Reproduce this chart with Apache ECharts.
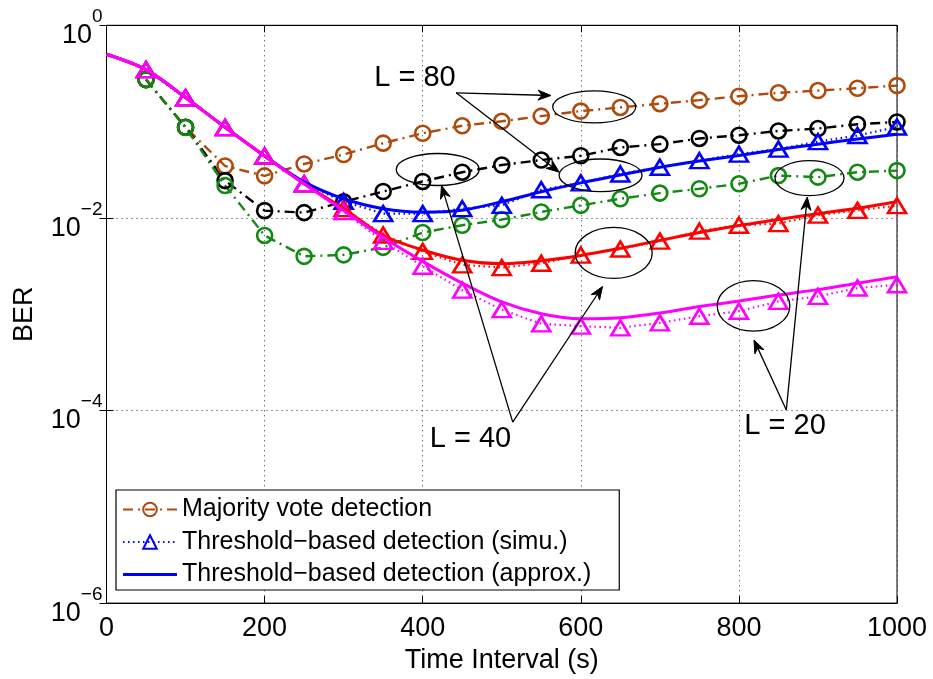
<!DOCTYPE html>
<html>
<head>
<meta charset="utf-8">
<script src="https://cdn.jsdelivr.net/npm/echarts@6/dist/echarts.min.js"></script>
<style>
  html, body { margin: 0; padding: 0; background: #fff; }
  #chart { width: 933px; height: 679px; }
</style>
</head>
<body>
<div id="chart"></div>
<script>
// Time interval (s) at which the simulated BER was measured
const timeSim = [50, 100, 150, 200, 250, 300, 350, 400, 450, 500, 550, 600, 650, 700, 750, 800, 850, 900, 950, 1000];
// Time interval (s) for the analytical approximation curves
const timeApprox = [0, 50, 100, 150, 200, 250, 300, 350, 400, 450, 500, 550, 600, 650, 700, 750, 800, 850, 900, 950, 1000];

// Majority vote detection (simulation)
const mvL80 = [0.273, 0.0873, 0.0346, 0.0273, 0.0363, 0.0455, 0.0597, 0.0757, 0.0905, 0.1007, 0.114, 0.1286, 0.1403, 0.1533, 0.167, 0.1836, 0.199, 0.210, 0.222, 0.2366];
const mvL40 = [0.273, 0.0873, 0.0244, 0.01189, 0.01134, 0.01473, 0.0188, 0.0239, 0.0298, 0.0354, 0.0399, 0.0442, 0.0539, 0.0583, 0.0668, 0.0722, 0.0800, 0.0847, 0.0938, 0.0991];
const mvL20 = [0.273, 0.0867, 0.0217, 0.00657, 0.00399, 0.00413, 0.00494, 0.00705, 0.00839, 0.0096, 0.01153, 0.01349, 0.0158, 0.0181, 0.02005, 0.0226, 0.0275, 0.0265, 0.0298, 0.031];

// Threshold-based detection (simulation)
const thL80 = [0.346, 0.177, 0.0867, 0.0439, 0.0226, 0.01483, 0.01107, 0.01107, 0.01247, 0.01349, 0.0196, 0.0231, 0.0286, 0.0336, 0.0393, 0.046, 0.0518, 0.0619, 0.0717, 0.088];
const thL40 = [0.346, 0.177, 0.0867, 0.0439, 0.0226, 0.0125, 0.00665, 0.00449, 0.00325, 0.00305, 0.00338, 0.00411, 0.00475, 0.00574, 0.00728, 0.00839, 0.00873, 0.01069, 0.01197, 0.0134];
const thL20 = [0.346, 0.177, 0.0867, 0.0439, 0.0226, 0.01161, 0.0057, 0.00315, 0.00178, 0.001114, 0.000794, 0.000752, 0.000722, 0.000813, 0.000953, 0.001074, 0.00136, 0.00153, 0.00187, 0.00202];

// Threshold-based detection (approximation)
const apL80 = [0.50, 0.346, 0.178, 0.0873, 0.044, 0.0237, 0.0158, 0.01247, 0.01148, 0.01203, 0.01473, 0.01868, 0.0231, 0.0279, 0.0336, 0.039, 0.0444, 0.0512, 0.0583, 0.0658, 0.074];
const apL40 = [0.50, 0.346, 0.178, 0.0873, 0.044, 0.0226, 0.0125, 0.00657, 0.00464, 0.00363, 0.00334, 0.00359, 0.00408, 0.00483, 0.00584, 0.00705, 0.00833, 0.0096, 0.01107, 0.01262, 0.01473];
const apL20 = [0.50, 0.346, 0.178, 0.0873, 0.044, 0.0226, 0.0119, 0.00626, 0.00354, 0.0021, 0.00134, 0.00101, 0.000895, 0.000916, 0.00103, 0.0012, 0.00137, 0.00158, 0.0018, 0.0021, 0.00245];

const xTicks = [0, 200, 400, 600, 800, 1000];
const yTickExponents = [0, -2, -4, -6];

const legendNames = ['Majority vote detection', 'Threshold\u2212based detection (simu.)', 'Threshold\u2212based detection (approx.)'];

const FONT = '"Liberation Sans", Arial, Helvetica, sans-serif';
const BROWN = '#B04A0C', GREEN = '#128A12', BLACK = '#000000';
const BLUE = '#0000FF', RED = '#FF0000', MAGENTA = '#FF00FF';

const pairs = (xs, ys) => xs.map((x, i) => [x, ys[i]]);

function majority(name, color, ys) {
  return {
    name, type: 'line', data: pairs(timeSim, ys),
    symbol: 'circle', symbolSize: 15, z: 3,
    itemStyle: { color: 'transparent', borderColor: color, borderWidth: 2.6 },
    lineStyle: { color, width: 2.4, type: [10, 5, 2, 5] },
    color
  };
}
function simu(name, color, ys) {
  return {
    name, type: 'line', data: pairs(timeSim, ys),
    symbol: 'triangle', symbolSize: [18, 15], z: 4,
    itemStyle: { color: 'transparent', borderColor: color, borderWidth: 2.6 },
    lineStyle: { color, width: 2.2, type: [1.5, 3.5] },
    color
  };
}
function approx(name, color, ys) {
  return {
    name, type: 'line', data: pairs(timeApprox, ys),
    symbol: 'none', smooth: 0.3, z: 5,
    lineStyle: { color, width: 3, type: 'solid' },
    itemStyle: { color },
    color
  };
}

const series = [
  majority(legendNames[0], BROWN, mvL80),
  majority('Majority vote (L = 40)', BLACK, mvL40),
  majority('Majority vote (L = 20)', GREEN, mvL20),
  simu(legendNames[1], BLUE, thL80),
  approx(legendNames[2], BLUE, apL80),
  simu('Threshold (simu.) L = 40', RED, thL40),
  approx('Threshold (approx.) L = 40', RED, apL40),
  simu('Threshold (simu.) L = 20', MAGENTA, thL20),
  approx('Threshold (approx.) L = 20', MAGENTA, apL20)
];

const gridLine = { show: true, lineStyle: { color: '#333', width: 1, type: [1, 4] } };
const tickInside = { show: true, inside: true, length: 7, lineStyle: { color: '#000', width: 1 } };

const chart = echarts.init(document.getElementById('chart'), null, { renderer: 'canvas' });

const option = {
  animation: false,
  backgroundColor: '#fff',
  textStyle: { fontFamily: FONT },
  grid: { left: 106.5, right: 36, top: 25.3, bottom: 71.7, show: true, borderColor: '#000', borderWidth: 1 },
  xAxis: [{
    type: 'value', min: 0, max: 1000, interval: 200,
    axisLine: { show: true, lineStyle: { color: '#000', width: 1 } },
    axisTick: tickInside,
    splitLine: gridLine,
    axisLabel: {
      color: '#000', fontSize: 27, fontFamily: FONT, margin: 12,
      formatter: v => xTicks.includes(v) ? String(v) : ''
    },
    name: 'Time Interval (s)', nameLocation: 'middle', nameGap: 36,
    nameTextStyle: { color: '#000', fontSize: 27, fontFamily: FONT }
  }, {
    type: 'value', min: 0, max: 1000, interval: 200, position: 'top',
    axisLine: { show: true, lineStyle: { color: '#000' } },
    axisTick: tickInside, axisLabel: { show: false }, splitLine: { show: false }
  }],
  yAxis: [{
    type: 'log', logBase: 10, min: 1e-6, max: 1, interval: 2,
    axisLine: { show: true, lineStyle: { color: '#000', width: 1 } },
    axisTick: tickInside,
    splitLine: gridLine,
    minorTick: { show: false },
    axisLabel: {
      color: '#000', margin: 4, fontFamily: FONT, padding: [6, 0, 0, 0],
      formatter: v => {
        const e = Math.round(Math.log10(v));
        if (!yTickExponents.includes(e)) return '';
        return '{b|10}{s|' + (e < 0 ? '\u2212' + (-e) : e) + '}';
      },
      rich: {
        b: { fontSize: 27, fontFamily: FONT, color: '#000', verticalAlign: 'bottom', lineHeight: 42 },
        s: { fontSize: 19, fontFamily: FONT, color: '#000', verticalAlign: 'top', lineHeight: 42 }
      }
    },
    name: 'BER', nameLocation: 'middle', nameGap: 68,
    nameTextStyle: { color: '#000', fontSize: 27, fontFamily: FONT }
  }, {
    type: 'log', logBase: 10, min: 1e-6, max: 1, interval: 2, position: 'right',
    axisLine: { show: true, lineStyle: { color: '#000' } },
    axisTick: tickInside, axisLabel: { show: false }, splitLine: { show: false }
  }],
  legend: {
    data: [
      { name: legendNames[0] },
      { name: legendNames[1] },
      { name: legendNames[2], icon: 'path://M0,0 L54,0 L54,3 L0,3 Z' }
    ],
    orient: 'vertical',
    left: 116, top: 490,
    padding: [7, 28, 3, 6],
    itemWidth: 54, itemHeight: 17, itemGap: 7.5,
    symbolKeepAspect: true,
    backgroundColor: '#fff',
    borderColor: '#000', borderWidth: 1.2,
    textStyle: { color: '#000', fontSize: 25, fontFamily: FONT },
    selectedMode: false
  },
  series
};
chart.setOption(option);

// Annotation callouts: ellipses around groups of markers, arrows and labels.
const toPx = (x, y) => chart.convertToPixel({ xAxisIndex: 0, yAxisIndex: 0 }, [x, y]);

const ellipses = [
  { c: [617, 0.142], rx: 41.5, ry: 16 },
  { c: [419, 0.0318], rx: 41.5, ry: 16 },
  { c: [625, 0.0277], rx: 41.5, ry: 16.3 },
  { c: [641.6, 0.00433], rx: 38.5, ry: 25.5 },
  { c: [818.5, 0.00122], rx: 36.3, ry: 25.3 },
  { c: [889.3, 0.0259], rx: 34.5, ry: 17.5 }
];

const labels = [
  { text: 'L = 80', at: [390.3, 0.286] },
  { text: 'L = 40', at: [460.4, 5.0e-5] },
  { text: 'L = 20', at: [858.4, 6.9e-5] }
];

const arrows = [
  { from: [442.3, 0.199], to: [562.3, 0.1867] },
  { from: [442.3, 0.199], to: [572.8, 0.0298] },
  { from: [513.9, 7.57e-5], to: [423.8, 0.0217] },
  { from: [513.9, 7.57e-5], to: [627.5, 0.00194] },
  { from: [860, 1.014e-4], to: [819.1, 5.4e-4] },
  { from: [860, 1.014e-4], to: [886.5, 0.01645] }
];

const graphic = [];
ellipses.forEach(e => {
  const p = toPx(e.c[0], e.c[1]);
  graphic.push({
    type: 'ellipse', z: 20,
    shape: { cx: p[0], cy: p[1], rx: e.rx, ry: e.ry },
    style: { fill: 'none', stroke: '#000', lineWidth: 1.3 }
  });
});
arrows.forEach(a => {
  const p0 = toPx(a.from[0], a.from[1]);
  const p1 = toPx(a.to[0], a.to[1]);
  const dx = p1[0] - p0[0], dy = p1[1] - p0[1];
  const len = Math.hypot(dx, dy);
  const ux = dx / len, uy = dy / len;
  const nx = -uy, ny = ux;
  const headLen = 13, headW = 5, notch = 9;
  const bx = p1[0] - ux * headLen, by = p1[1] - uy * headLen;
  const mx = p1[0] - ux * notch, my = p1[1] - uy * notch;
  graphic.push({
    type: 'line', z: 20,
    shape: { x1: p0[0], y1: p0[1], x2: mx, y2: my },
    style: { stroke: '#000', lineWidth: 1.3 }
  });
  graphic.push({
    type: 'polygon', z: 20,
    shape: { points: [[p1[0], p1[1]], [bx + nx * headW, by + ny * headW], [mx, my], [bx - nx * headW, by - ny * headW]] },
    style: { fill: '#000', stroke: '#000', lineWidth: 1 }
  });
});
labels.forEach(l => {
  const p = toPx(l.at[0], l.at[1]);
  graphic.push({
    type: 'text', z: 21, x: p[0], y: p[1],
    style: { text: l.text, fill: '#000', font: '29px ' + FONT, textAlign: 'center', textVerticalAlign: 'middle' }
  });
});
chart.setOption({ graphic });
</script>
</body>
</html>
